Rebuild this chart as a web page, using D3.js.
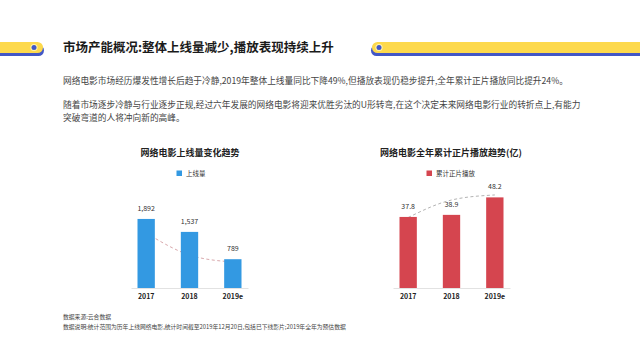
<!DOCTYPE html>
<html>
<head>
<meta charset="utf-8">
<script src="https://cdn.jsdelivr.net/npm/d3@7"></script>
<style>
  body { margin: 0; background: #fff; }
  svg { display: block; font-family: "Noto Sans CJK SC", "Noto Sans", sans-serif; }
</style>
</head>
<body>
<div id="chart"></div>
<script>
// data
var years = ["2017", "2018", "2019e"];
var releaseCount = [1892, 1537, 789];
var releaseTrend = [1507, 904, 712];
var playCount = [37.8, 38.9, 48.2];
var playTrend = [37.5, 46.8, 49.5];

var headline = "市场产能概况:整体上线量减少,播放表现持续上升";
var paragraph = [
  "网络电影市场经历爆发性增长后趋于冷静,2019年整体上线量同比下降49%,但播放表现仍稳步提升,全年累计正片播放同比提升24%。",
  "随着市场逐步冷静与行业逐步正规,经过六年发展的网络电影将迎来优胜劣汰的U形转弯,在这个决定未来网络电影行业的转折点上,有能力",
  "突破弯道的人将冲向新的高峰。"
];
var footnotes = [
  "数据来源:云合数据",
  "数据说明:统计范围为历年上线网络电影,统计时间截至2019年12月20日,包括已下线影片;2019年全年为预估数据"
];

var width = 640, height = 360;

var svg = d3.select("#chart").append("svg")
    .attr("width", width)
    .attr("height", height);

// header ribbons
var yellow = "#fdd94c", navy = "#4257c6";

function ribbon(x0, x1, dotX, leftRound) {
  var g = svg.append("g");
  g.append("rect")
      .attr("x", x0 + (leftRound ? -1 : 1)).attr("y", 45)
      .attr("width", x1 - x0).attr("height", 11)
      .attr("rx", 5.5)
      .attr("fill", navy);
  g.append("rect")
      .attr("x", x0).attr("y", 42)
      .attr("width", x1 - x0).attr("height", 11)
      .attr("rx", 5.5)
      .attr("fill", yellow);
  g.append("circle")
      .attr("cx", dotX).attr("cy", 47.5)
      .attr("r", 3.6)
      .attr("fill", "#fff3b0");
  g.append("circle")
      .attr("cx", dotX).attr("cy", 47.5)
      .attr("r", 2.5)
      .attr("fill", navy);
}
ribbon(-20, 43, 34, false);
ribbon(372, 660, 379, true);

svg.append("text")
    .attr("x", 63)
    .attr("y", 52)
    .attr("font-size", 12.5)
    .attr("font-weight", "bold")
    .attr("fill", "#1a1a1a")
    .text(headline);

// intro paragraph
var paraY = [84, 108, 121];
svg.selectAll(".para")
    .data(paragraph)
    .enter().append("text")
    .attr("class", "para")
    .attr("x", 63)
    .attr("y", function(d, i) { return paraY[i]; })
    .attr("font-size", 8.7)
    .attr("fill", "#444")
    .text(function(d) { return d; });

// footnotes
svg.selectAll(".foot")
    .data(footnotes)
    .enter().append("text")
    .attr("class", "foot")
    .attr("x", 63)
    .attr("y", function(d, i) { return 319 + i * 10; })
    .attr("font-size", 5.8)
    .attr("fill", "#444")
    .text(function(d) { return d; });

var baseline = 288;

function drawChart(opt) {
  var g = svg.append("g");

  var x = d3.scaleBand()
      .domain(years)
      .range(opt.xRange)
      .paddingInner(0.6)
      .paddingOuter(0.15);

  var y = d3.scaleLinear()
      .domain(opt.yDomain)
      .range([baseline, opt.yTop]);

  // title
  g.append("text")
      .attr("x", opt.titleX)
      .attr("y", 156)
      .attr("text-anchor", "middle")
      .attr("font-size", 9)
      .attr("font-weight", "bold")
      .attr("fill", "#222")
      .text(opt.title);

  // legend
  g.append("rect")
      .attr("x", opt.legendX)
      .attr("y", 170.5)
      .attr("width", 5.5)
      .attr("height", 5.5)
      .attr("fill", opt.color);
  g.append("text")
      .attr("x", opt.legendX + 9.5)
      .attr("y", 175.8)
      .attr("font-size", 6.5)
      .attr("fill", "#333")
      .text(opt.legend);

  // trend line, behind the bars
  var line = d3.line()
      .x(function(d, i) { return x(years[i]) + x.bandwidth() / 2; })
      .y(function(d) { return y(d); })
      .curve(d3.curveMonotoneX);

  g.append("path")
      .datum(opt.trend)
      .attr("d", line)
      .attr("fill", "none")
      .attr("stroke", opt.dashColor)
      .attr("stroke-width", 1)
      .attr("stroke-dasharray", "3,2.5");

  // bars
  g.selectAll(".bar")
      .data(opt.values)
      .enter().append("rect")
      .attr("x", function(d, i) { return x(years[i]); })
      .attr("y", function(d) { return y(d); })
      .attr("width", x.bandwidth())
      .attr("height", function(d) { return baseline - y(d); })
      .attr("fill", opt.color);

  // value labels
  g.selectAll(".val")
      .data(opt.values)
      .enter().append("text")
      .attr("x", function(d, i) { return x(years[i]) + x.bandwidth() / 2; })
      .attr("y", function(d) { return y(d) - 8; })
      .attr("text-anchor", "middle")
      .attr("font-size", 7)
      .attr("fill", "#333")
      .text(function(d) { return opt.format(d); });

  // x axis
  var axis = g.append("g")
      .attr("transform", "translate(0," + baseline + ")")
      .call(d3.axisBottom(x).tickSize(0).tickPadding(6.5));
  axis.select(".domain").attr("stroke", "#e2e2e2");
  axis.selectAll("text")
      .attr("font-size", 7)
      .attr("font-weight", "bold")
      .attr("fill", "#222")
      .attr("font-family", "\"Noto Sans CJK SC\", sans-serif");
}

drawChart({
  title: "网络电影上线量变化趋势",
  titleX: 190,
  legend: "上线量",
  legendX: 176.5,
  color: "#3399e2",
  dashColor: "#d9a9ad",
  values: releaseCount,
  trend: releaseTrend,
  xRange: [131, 248],
  yDomain: [0, 2000],
  yTop: 215,
  format: d3.format(",")
});

drawChart({
  title: "网络电影全年累计正片播放趋势(亿)",
  titleX: 451,
  legend: "累计正片播放",
  legendX: 426.5,
  color: "#d5454f",
  dashColor: "#b3b3b3",
  values: playCount,
  trend: playTrend,
  xRange: [393, 510],
  yDomain: [0, 50],
  yTop: 194,
  format: d3.format(".1f")
});
</script>
</body>
</html>
